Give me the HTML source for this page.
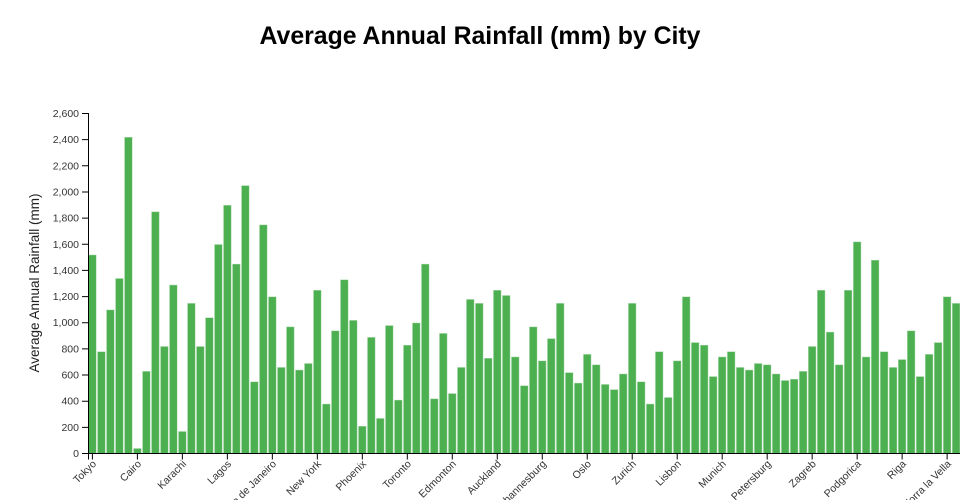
<!DOCTYPE html>
<html><head><meta charset="utf-8"><style>
html,body{margin:0;padding:0;background:#fff;}
svg{display:block;font-family:"Liberation Sans",sans-serif;}
.t{font-size:10.5px;fill:#333;}
</style></head><body>
<svg width="960" height="500" viewBox="0 0 960 500" xmlns="http://www.w3.org/2000/svg">
<rect width="960" height="500" fill="#fff"/>
<text x="480" y="44" text-anchor="middle" font-size="25" font-weight="bold" fill="#000" textLength="441" lengthAdjust="spacingAndGlyphs">Average Annual Rainfall (mm) by City</text>
<text transform="translate(39,283) rotate(-90)" text-anchor="middle" font-size="13.5" fill="#222">Average Annual Rainfall (mm)</text>
<g transform="translate(88.35,453.5)" fill="#4caf50" stroke="#fff" stroke-opacity="0.5" stroke-width="1">
<rect x="0" y="-198.77" width="8.1" height="198.77"/>
<rect x="9.00" y="-102.00" width="8.1" height="102.00"/>
<rect x="17.99" y="-143.85" width="8.1" height="143.85"/>
<rect x="26.99" y="-175.23" width="8.1" height="175.23"/>
<rect x="35.99" y="-316.46" width="8.1" height="316.46"/>
<rect x="44.99" y="-5.23" width="8.1" height="5.23"/>
<rect x="53.98" y="-82.38" width="8.1" height="82.38"/>
<rect x="62.98" y="-241.92" width="8.1" height="241.92"/>
<rect x="71.98" y="-107.23" width="8.1" height="107.23"/>
<rect x="80.97" y="-168.69" width="8.1" height="168.69"/>
<rect x="89.97" y="-22.23" width="8.1" height="22.23"/>
<rect x="98.97" y="-150.38" width="8.1" height="150.38"/>
<rect x="107.96" y="-107.23" width="8.1" height="107.23"/>
<rect x="116.96" y="-136.00" width="8.1" height="136.00"/>
<rect x="125.96" y="-209.23" width="8.1" height="209.23"/>
<rect x="134.96" y="-248.46" width="8.1" height="248.46"/>
<rect x="143.95" y="-189.62" width="8.1" height="189.62"/>
<rect x="152.95" y="-268.08" width="8.1" height="268.08"/>
<rect x="161.95" y="-71.92" width="8.1" height="71.92"/>
<rect x="170.94" y="-228.85" width="8.1" height="228.85"/>
<rect x="179.94" y="-156.92" width="8.1" height="156.92"/>
<rect x="188.94" y="-86.31" width="8.1" height="86.31"/>
<rect x="197.93" y="-126.85" width="8.1" height="126.85"/>
<rect x="206.93" y="-83.69" width="8.1" height="83.69"/>
<rect x="215.93" y="-90.23" width="8.1" height="90.23"/>
<rect x="224.93" y="-163.46" width="8.1" height="163.46"/>
<rect x="233.92" y="-49.69" width="8.1" height="49.69"/>
<rect x="242.92" y="-122.92" width="8.1" height="122.92"/>
<rect x="251.92" y="-173.92" width="8.1" height="173.92"/>
<rect x="260.91" y="-133.38" width="8.1" height="133.38"/>
<rect x="269.91" y="-27.46" width="8.1" height="27.46"/>
<rect x="278.91" y="-116.38" width="8.1" height="116.38"/>
<rect x="287.90" y="-35.31" width="8.1" height="35.31"/>
<rect x="296.90" y="-128.15" width="8.1" height="128.15"/>
<rect x="305.90" y="-53.62" width="8.1" height="53.62"/>
<rect x="314.90" y="-108.54" width="8.1" height="108.54"/>
<rect x="323.89" y="-130.77" width="8.1" height="130.77"/>
<rect x="332.89" y="-189.62" width="8.1" height="189.62"/>
<rect x="341.89" y="-54.92" width="8.1" height="54.92"/>
<rect x="350.88" y="-120.31" width="8.1" height="120.31"/>
<rect x="359.88" y="-60.15" width="8.1" height="60.15"/>
<rect x="368.88" y="-86.31" width="8.1" height="86.31"/>
<rect x="377.87" y="-154.31" width="8.1" height="154.31"/>
<rect x="386.87" y="-150.38" width="8.1" height="150.38"/>
<rect x="395.87" y="-95.46" width="8.1" height="95.46"/>
<rect x="404.87" y="-163.46" width="8.1" height="163.46"/>
<rect x="413.86" y="-158.23" width="8.1" height="158.23"/>
<rect x="422.86" y="-96.77" width="8.1" height="96.77"/>
<rect x="431.86" y="-68.00" width="8.1" height="68.00"/>
<rect x="440.85" y="-126.85" width="8.1" height="126.85"/>
<rect x="449.85" y="-92.85" width="8.1" height="92.85"/>
<rect x="458.85" y="-115.08" width="8.1" height="115.08"/>
<rect x="467.84" y="-150.38" width="8.1" height="150.38"/>
<rect x="476.84" y="-81.08" width="8.1" height="81.08"/>
<rect x="485.84" y="-70.62" width="8.1" height="70.62"/>
<rect x="494.84" y="-99.38" width="8.1" height="99.38"/>
<rect x="503.83" y="-88.92" width="8.1" height="88.92"/>
<rect x="512.83" y="-69.31" width="8.1" height="69.31"/>
<rect x="521.83" y="-64.08" width="8.1" height="64.08"/>
<rect x="530.82" y="-79.77" width="8.1" height="79.77"/>
<rect x="539.82" y="-150.38" width="8.1" height="150.38"/>
<rect x="548.82" y="-71.92" width="8.1" height="71.92"/>
<rect x="557.81" y="-49.69" width="8.1" height="49.69"/>
<rect x="566.81" y="-102.00" width="8.1" height="102.00"/>
<rect x="575.81" y="-56.23" width="8.1" height="56.23"/>
<rect x="584.81" y="-92.85" width="8.1" height="92.85"/>
<rect x="593.80" y="-156.92" width="8.1" height="156.92"/>
<rect x="602.80" y="-111.15" width="8.1" height="111.15"/>
<rect x="611.80" y="-108.54" width="8.1" height="108.54"/>
<rect x="620.79" y="-77.15" width="8.1" height="77.15"/>
<rect x="629.79" y="-96.77" width="8.1" height="96.77"/>
<rect x="638.79" y="-102.00" width="8.1" height="102.00"/>
<rect x="647.78" y="-86.31" width="8.1" height="86.31"/>
<rect x="656.78" y="-83.69" width="8.1" height="83.69"/>
<rect x="665.78" y="-90.23" width="8.1" height="90.23"/>
<rect x="674.78" y="-88.92" width="8.1" height="88.92"/>
<rect x="683.77" y="-79.77" width="8.1" height="79.77"/>
<rect x="692.77" y="-73.23" width="8.1" height="73.23"/>
<rect x="701.77" y="-74.54" width="8.1" height="74.54"/>
<rect x="710.76" y="-82.38" width="8.1" height="82.38"/>
<rect x="719.76" y="-107.23" width="8.1" height="107.23"/>
<rect x="728.76" y="-163.46" width="8.1" height="163.46"/>
<rect x="737.75" y="-121.62" width="8.1" height="121.62"/>
<rect x="746.75" y="-88.92" width="8.1" height="88.92"/>
<rect x="755.75" y="-163.46" width="8.1" height="163.46"/>
<rect x="764.75" y="-211.85" width="8.1" height="211.85"/>
<rect x="773.74" y="-96.77" width="8.1" height="96.77"/>
<rect x="782.74" y="-193.54" width="8.1" height="193.54"/>
<rect x="791.74" y="-102.00" width="8.1" height="102.00"/>
<rect x="800.73" y="-86.31" width="8.1" height="86.31"/>
<rect x="809.73" y="-94.15" width="8.1" height="94.15"/>
<rect x="818.73" y="-122.92" width="8.1" height="122.92"/>
<rect x="827.72" y="-77.15" width="8.1" height="77.15"/>
<rect x="836.72" y="-99.38" width="8.1" height="99.38"/>
<rect x="845.72" y="-111.15" width="8.1" height="111.15"/>
<rect x="854.72" y="-156.92" width="8.1" height="156.92"/>
<rect x="863.71" y="-150.38" width="8.1" height="150.38"/>
</g>
<!-- Y axis -->
<g stroke="#000" stroke-width="1" fill="none">
<path d="M82,113.5H88.5V453.5H82"/>
<path d="M82,427.35H88.5M82,401.19H88.5M82,375.04H88.5M82,348.88H88.5M82,322.73H88.5M82,296.58H88.5M82,270.42H88.5M82,244.27H88.5M82,218.12H88.5M82,191.96H88.5M82,165.81H88.5M82,139.65H88.5"/>
<path d="M88.5,459.5V453.5H961V459.5"/>
<path d="M92.4,453.5V459.5M137.39,453.5V459.5M182.37,453.5V459.5M227.36,453.5V459.5M272.34,453.5V459.5M317.33,453.5V459.5M362.31,453.5V459.5M407.3,453.5V459.5M452.28,453.5V459.5M497.27,453.5V459.5M542.25,453.5V459.5M587.24,453.5V459.5M632.22,453.5V459.5M677.21,453.5V459.5M722.19,453.5V459.5M767.18,453.5V459.5M812.16,453.5V459.5M857.15,453.5V459.5M902.13,453.5V459.5M947.12,453.5V459.5"/>
</g>
<g class="t" text-anchor="end">
<text x="79" y="457">0</text>
<text x="79" y="430.85">200</text>
<text x="79" y="404.69">400</text>
<text x="79" y="378.54">600</text>
<text x="79" y="352.38">800</text>
<text x="79" y="326.23">1,000</text>
<text x="79" y="300.08">1,200</text>
<text x="79" y="273.92">1,400</text>
<text x="79" y="247.77">1,600</text>
<text x="79" y="221.62">1,800</text>
<text x="79" y="195.46">2,000</text>
<text x="79" y="169.31">2,200</text>
<text x="79" y="143.15">2,400</text>
<text x="79" y="117">2,600</text>
</g>
<g class="t" text-anchor="end">
<text transform="translate(96.9,464.5) rotate(-45)">Tokyo</text>
<text transform="translate(141.89,464.5) rotate(-45)">Cairo</text>
<text transform="translate(186.87,464.5) rotate(-45)">Karachi</text>
<text transform="translate(231.86,464.5) rotate(-45)">Lagos</text>
<text transform="translate(276.84,464.5) rotate(-45)">Rio de Janeiro</text>
<text transform="translate(321.83,464.5) rotate(-45)">New York</text>
<text transform="translate(366.81,464.5) rotate(-45)">Phoenix</text>
<text transform="translate(411.8,464.5) rotate(-45)">Toronto</text>
<text transform="translate(456.78,464.5) rotate(-45)">Edmonton</text>
<text transform="translate(501.77,464.5) rotate(-45)">Auckland</text>
<text transform="translate(546.75,464.5) rotate(-45)">Johannesburg</text>
<text transform="translate(591.74,464.5) rotate(-45)">Oslo</text>
<text transform="translate(636.72,464.5) rotate(-45)">Zurich</text>
<text transform="translate(681.71,464.5) rotate(-45)">Lisbon</text>
<text transform="translate(726.69,464.5) rotate(-45)">Munich</text>
<text transform="translate(771.68,464.5) rotate(-45)">St. Petersburg</text>
<text transform="translate(816.66,464.5) rotate(-45)">Zagreb</text>
<text transform="translate(861.65,464.5) rotate(-45)">Podgorica</text>
<text transform="translate(906.63,464.5) rotate(-45)">Riga</text>
<text transform="translate(951.62,464.5) rotate(-45)">Andorra la Vella</text>
</g>
</svg>
</body></html>
